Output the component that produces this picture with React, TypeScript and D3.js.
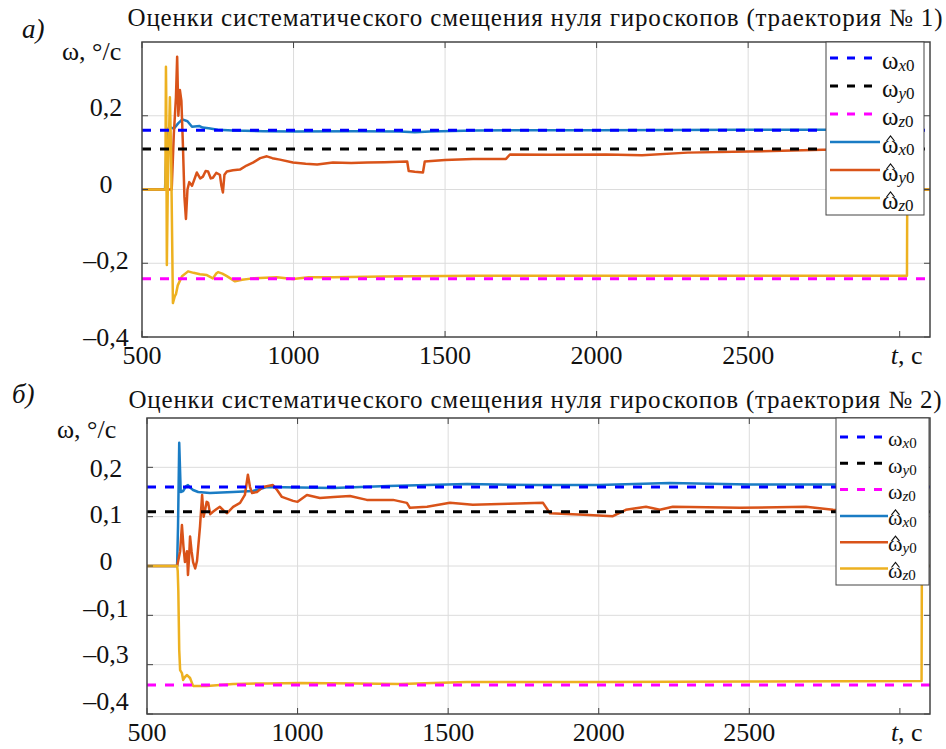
import React from "react";
import * as d3 from "d3";

const W = 946;
const H = 749;
const FONT = '"Liberation Serif", "Times New Roman", serif';

type Pt = [number, number];

// shared x axis
const xDomain: [number, number] = [500, 3100];
const xTicks = [500, 1000, 1500, 2000, 2500, 3000];
const xTickLabels = ["500", "1000", "1500", "2000", "2500"];
const xGrid = [1000, 1500, 2000, 2500];
const xUnitTick = 3000;

const yUnit = "ω, °/с";
const legendAxes = ["x", "y", "z"];
const refColors = ["#0000ff", "#000000", "#ff00ff"];
const estColors = ["#1a7cc4", "#d95319", "#edb120"];

// ---- panel а) trajectory 1
const title1 = "Оценки систематического смещения нуля гироскопов (траектория № 1)";
const yTicks1 = [0.2, 0, -0.2, -0.4];
const yLabels1 = ["0,2", "0", "–0,2", "–0,4"];
const yGrid1 = [0.2, 0, -0.2];
const ref1 = [0.161, 0.11, -0.242];

const estX1: Pt[] = [
  [500, 0], [576, 0], [583, 0.16], [590, 0.17], [605, 0.165], [620, 0.18], [633, 0.19],
  [650, 0.185], [665, 0.17], [690, 0.172], [700, 0.168], [720, 0.166], [750, 0.162],
  [800, 0.16], [900, 0.158], [1000, 0.157], [1200, 0.158], [1350, 0.157], [1400, 0.155],
  [1450, 0.157], [1600, 0.16], [1800, 0.161], [2000, 0.161], [2500, 0.162], [2900, 0.162],
  [3024, 0.162], [3025, 0], [3100, 0],
];
const estY1: Pt[] = [
  [500, 0], [598, 0], [605, 0.15], [612, 0.25], [616, 0.36], [620, 0.2], [625, 0.27],
  [630, 0.24], [635, 0.12], [640, -0.02], [645, -0.08], [650, 0.0], [656, 0.02], [665, 0.01],
  [681, 0.046], [692, 0.03], [701, 0.035], [710, 0.05], [718, 0.049], [727, 0.03], [734, 0.032],
  [745, 0.045], [757, 0.04], [762, 0.01], [767, -0.008], [772, 0.04], [780, 0.049], [800, 0.052],
  [823, 0.054], [845, 0.065], [866, 0.073], [890, 0.085], [912, 0.09], [930, 0.085], [955, 0.081],
  [998, 0.073], [1040, 0.07], [1078, 0.068], [1130, 0.073], [1190, 0.072], [1243, 0.073],
  [1300, 0.074], [1375, 0.076], [1380, 0.05], [1400, 0.048], [1427, 0.046], [1433, 0.076],
  [1500, 0.08], [1592, 0.083], [1701, 0.083], [1714, 0.095], [1850, 0.094], [2031, 0.095],
  [2150, 0.093], [2300, 0.1], [2500, 0.103], [2747, 0.108], [2900, 0.109], [3024, 0.11],
  [3025, 0], [3100, 0],
];
const estZ1: Pt[] = [
  [500, 0], [577, 0], [579, 0.333], [580, 0.25], [582, -0.205], [585, 0.0], [592, 0.25],
  [596, 0.1], [602, -0.308], [608, -0.29], [612, -0.284], [618, -0.26], [632, -0.235],
  [652, -0.222], [670, -0.226], [691, -0.23], [714, -0.232], [734, -0.241], [745, -0.228],
  [751, -0.224], [765, -0.228], [780, -0.235], [807, -0.249], [830, -0.245], [866, -0.241],
  [945, -0.238], [998, -0.243], [1050, -0.238], [1130, -0.238], [1300, -0.236], [1600, -0.234],
  [2000, -0.234], [2500, -0.234], [3024, -0.234], [3025, 0], [3100, 0],
];

// ---- panel б) trajectory 2
const title2 = "Оценки систематического смещения нуля гироскопов (траектория № 2)";
const yTicks2 = [0.2, 0.1, 0, -0.1, -0.2, -0.3];
const yLabels2 = ["0,2", "0,1", "0", "–0,1", "–0,3", "–0,4"];
const yGrid2 = [0.2, 0.1, 0, -0.1, -0.2];
const ref2 = [0.16, 0.11, -0.241];

const estX2: Pt[] = [
  [500, 0], [600, 0], [603, 0.08], [607, 0.25], [612, 0.15], [620, 0.152], [630, 0.162],
  [636, 0.164], [645, 0.158], [653, 0.154], [670, 0.15], [709, 0.148], [786, 0.15],
  [852, 0.152], [898, 0.16], [1008, 0.159], [1118, 0.158], [1300, 0.162], [1562, 0.166],
  [1800, 0.164], [2000, 0.164], [2236, 0.168], [2500, 0.165], [3072, 0.165], [3073, 0], [3100, 0],
];
const estY2: Pt[] = [
  [500, 0], [600, 0], [610, 0.03], [616, 0.083], [621, 0.04], [626, 0.008], [633, 0.03],
  [636, -0.018], [640, 0.02], [643, 0.06], [648, 0.03], [653, 0.008], [660, -0.005], [666, 0.01],
  [676, 0.08], [683, 0.144], [688, 0.1], [693, 0.114], [698, 0.13], [703, 0.128], [710, 0.105],
  [719, 0.11], [730, 0.115], [742, 0.12], [755, 0.112], [766, 0.107], [786, 0.12], [809, 0.128],
  [825, 0.144], [835, 0.185], [842, 0.16], [849, 0.148], [865, 0.15], [885, 0.16], [918, 0.164],
  [932, 0.154], [948, 0.14], [985, 0.132], [1000, 0.13], [1031, 0.144], [1074, 0.138],
  [1120, 0.14], [1174, 0.142], [1230, 0.134], [1317, 0.134], [1363, 0.128], [1373, 0.118],
  [1430, 0.12], [1506, 0.128], [1582, 0.124], [1700, 0.126], [1815, 0.128], [1838, 0.107],
  [1950, 0.104], [2047, 0.101], [2090, 0.114], [2157, 0.12], [2203, 0.114], [2246, 0.12],
  [2469, 0.118], [2688, 0.12], [2778, 0.114], [2900, 0.113], [3072, 0.113], [3073, 0], [3100, 0],
];
const estZ2: Pt[] = [
  [500, 0], [600, 0], [602, -0.01], [604, -0.05], [607, -0.17], [610, -0.211], [616, -0.217],
  [620, -0.231], [626, -0.225], [633, -0.221], [643, -0.227], [653, -0.243], [699, -0.243],
  [786, -0.239], [900, -0.238], [1008, -0.237], [1200, -0.238], [1340, -0.239], [1562, -0.235],
  [2000, -0.235], [2500, -0.234], [3072, -0.233], [3073, 0], [3100, 0],
];

interface PanelCfg {
  id: string;
  left: number; right: number; top: number; bottom: number;
  yDomain: [number, number];
  yTicks: number[]; yLabels: string[]; yGrid: number[];
  labelShift: number; labelStretch: number;
  refs: number[]; est: Pt[][];
  title: string; titleY: number; titleLen: number;
  letter: string; letterX: number; letterY: number;
  unitX: number; unitY: number;
  xLabelY: number;
  legend: {
    x: number; y: number; w: number; h: number; first: number; step: number;
    l0: number; l1: number; tx: number; fs: number; sub: number;
  };
}

const panels: PanelCfg[] = [
  {
    id: "p1", left: 142, right: 930, top: 42, bottom: 337,
    yDomain: [-0.4, 0.4], yTicks: yTicks1, yLabels: yLabels1, yGrid: yGrid1,
    labelShift: -6, labelStretch: 1.04,
    refs: ref1, est: [estX1, estY1, estZ1],
    title: title1, titleY: 26, titleLen: 815,
    letter: "а)", letterX: 22, letterY: 38,
    unitX: 62, unitY: 60, xLabelY: 364,
    legend: { x: 826, y: 42, w: 98, h: 173, first: 58, step: 28, l0: 830, l1: 880, tx: 882, fs: 25, sub: 17 },
  },
  {
    id: "p2", left: 147, right: 930, top: 418, bottom: 714,
    yDomain: [-0.3, 0.3], yTicks: yTicks2, yLabels: yLabels2, yGrid: yGrid2,
    labelShift: -5, labelStretch: 0.945,
    refs: ref2, est: [estX2, estY2, estZ2],
    title: title2, titleY: 408, titleLen: 813,
    letter: "б)", letterX: 12, letterY: 403,
    unitX: 57, unitY: 438, xLabelY: 741,
    legend: { x: 836, y: 418, w: 93, h: 167, first: 437, step: 26.3, l0: 840, l1: 888, tx: 888, fs: 22, sub: 15 },
  },
];

const txt: React.CSSProperties = { fontFamily: FONT };

function Panel({ c }: { c: PanelCfg }) {
  const x = d3.scaleLinear().domain(xDomain).range([c.left, c.right]);
  const y = d3.scaleLinear().domain(c.yDomain).range([c.bottom, c.top]);
  const line = d3.line<Pt>().x(d => x(d[0])).y(d => y(d[1]));
  const y0 = y(0);
  // label centres are spaced a bit differently from the grid in the source
  const labelY = (v: number) => y0 + c.labelShift + (y(v) - y0) * c.labelStretch;
  const lg = c.legend;
  const tick = 6;

  return (
    <g fill="#111">
      <text style={txt} x={c.letterX} y={c.letterY} fontSize={27} fontStyle="italic">{c.letter}</text>
      <text style={txt} x={535} y={c.titleY} fontSize={25} textAnchor="middle" textLength={c.titleLen} lengthAdjust="spacing">
        {c.title}
      </text>
      <text style={txt} x={c.unitX} y={c.unitY} fontSize={26}>{yUnit}</text>

      <rect x={c.left} y={c.top} width={c.right - c.left} height={c.bottom - c.top} fill="#fff" />
      <clipPath id={`clip-${c.id}`}>
        <rect x={c.left} y={c.top} width={c.right - c.left} height={c.bottom - c.top} />
      </clipPath>

      {/* grid */}
      {xGrid.map(t => (
        <line key={`gx${t}`} x1={x(t)} x2={x(t)} y1={c.top} y2={c.bottom} stroke="#dcdcdc" strokeWidth={1} />
      ))}
      {c.yGrid.map(v => (
        <line key={`gy${v}`} x1={c.left} x2={c.right} y1={y(v)} y2={y(v)} stroke="#dcdcdc" strokeWidth={1} />
      ))}

      <g clipPath={`url(#clip-${c.id})`} fill="none">
        {c.est.map((s, i) => (
          <path key={`e${i}`} d={line(s) || ""} stroke={estColors[i]} strokeWidth={2.5} strokeLinejoin="round" />
        ))}
        {c.refs.map((v, i) => (
          <path key={`r${i}`} d={line([[xDomain[0], v], [xDomain[1], v]]) || ""} stroke={refColors[i]}
            strokeWidth={3} strokeDasharray="9 9" />
        ))}
      </g>

      {/* ticks */}
      {xTicks.map(t => (
        <g key={`xt${t}`} stroke="#444" strokeWidth={1}>
          <line x1={x(t)} x2={x(t)} y1={c.bottom} y2={c.bottom - tick} />
          <line x1={x(t)} x2={x(t)} y1={c.top} y2={c.top + tick} />
        </g>
      ))}
      {c.yTicks.map(v => (
        <g key={`yt${v}`} stroke="#444" strokeWidth={1}>
          <line x1={c.left} x2={c.left + tick} y1={y(v)} y2={y(v)} />
          <line x1={c.right} x2={c.right - tick} y1={y(v)} y2={y(v)} />
        </g>
      ))}
      <rect x={c.left} y={c.top} width={c.right - c.left} height={c.bottom - c.top} fill="none" stroke="#444" strokeWidth={1.5} />

      {/* tick labels */}
      {xTickLabels.map((s, i) => (
        <text style={txt} key={`xl${i}`} x={x(xTicks[i])} y={c.xLabelY} fontSize={26} textAnchor="middle">{s}</text>
      ))}
      <text style={txt} x={x(xUnitTick) - 9} y={c.xLabelY} fontSize={26}>
        <tspan fontStyle="italic">t</tspan>, с
      </text>
      {c.yTicks.map((v, i) => (
        <text style={txt} key={`yl${i}`} x={106} y={labelY(v)} dy="0.35em" fontSize={26} textAnchor="middle">{c.yLabels[i]}</text>
      ))}

      {/* legend */}
      <rect x={lg.x} y={lg.y} width={lg.w} height={lg.h} fill="#fff" stroke="#444" strokeWidth={1} />
      {[0, 1, 2, 3, 4, 5].map(i => {
        const ry = lg.first + i * lg.step;
        const k = i % 3;
        const isRef = i < 3;
        const hx = lg.tx + lg.fs * 0.34;
        return (
          <g key={`lg${i}`}>
            <line x1={lg.l0} x2={lg.l1} y1={ry} y2={ry}
              stroke={isRef ? refColors[k] : estColors[k]}
              strokeWidth={isRef ? 3 : 2.5} strokeDasharray={isRef ? "8 9" : undefined} />
            {!isRef && (
              <path d={`M${hx - 4},${ry - 1} L${hx},${ry - 6} L${hx + 4},${ry - 1}`}
                fill="none" stroke="#111" strokeWidth={1.2} />
            )}
            <text style={txt} x={lg.tx} y={ry + lg.fs * 0.42} fontSize={lg.fs}>
              ω
              <tspan dy={2} fontSize={lg.sub} fontStyle="italic">{legendAxes[k]}</tspan>
              <tspan fontSize={lg.sub}>0</tspan>
            </text>
          </g>
        );
      })}
    </g>
  );
}

export default function App() {
  return (
    <svg width={W} height={H} viewBox={`0 0 ${W} ${H}`}
      style={{ position: "absolute", left: 0, top: 0, background: "#fff", fontFamily: FONT }}>
      <rect width={W} height={H} fill="#fff" />
      {panels.map(c => <Panel key={c.id} c={c} />)}
    </svg>
  );
}
